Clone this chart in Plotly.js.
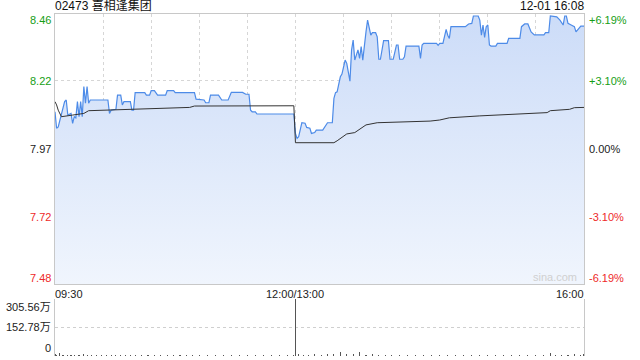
<!DOCTYPE html>
<html>
<head>
<meta charset="utf-8">
<script src="https://cdn.plot.ly/plotly-3.0.1.min.js"></script>
<style>html,body{margin:0;padding:0;background:#fff;}#chart{width:640px;height:360px;}</style>
</head>
<body>
<div id="chart"></div>
<script>
// ---- data (minutes from 09:30; 150 = 12:00/13:00, 330 = 16:00) ----
const titleText = "02473 喜相逢集团";
const stampText = "12-01 16:08";
const prevClose = 7.97;
const priceTicks = [8.46, 8.22, 7.97, 7.72, 7.48];
const pctTicks = ["+6.19%", "+3.10%", "0.00%", "-3.10%", "-6.19%"];
const timeLabels = ["09:30", "12:00/13:00", "16:00"];
const timeLabelMin = [0, 150, 330];
const gridMin = [30, 60, 90, 120, 150, 180, 210, 240, 270, 300];
const volTicks = [305.56, 152.78, 0];
const volTickText = ["305.56万", "152.78万", "0"];

const priceMin = [0,1,2,4,6,7,8,10,11,12,13,14,15,16,17,18,19,20,21,22,33,34,35,38,39,41,42,43,47,48,49,50,56,57,59,60,62,64,69,70,74,75,87,88,93,94,96,97,102,104,108,110,117,119,121,122,123,125,126,149,
150,151,152,154,156,157,159,160,162,163,167,170,173,174,175,176,178,179,181,182,184,185,186,187,189,190,191,192,193,194,195,196,197,198,200,201,202,203,205,208,209,211,213,214,215,217,218,219,227,228,229,230,238,239,240,242,244,245,246,247,256,258,260,261,264,265,266,267,268,269,270,271,272,275,276,282,283,290,291,293,295,297,299,305,306,308,309,313,315,317,318,319,320,322,324,325,327,328,330];
const priceVal = [8.106,8.046,8.051,8.094,8.143,8.149,8.094,8.100,8.064,8.088,8.084,8.143,8.088,8.143,8.088,8.198,8.137,8.198,8.137,8.149,8.149,8.100,8.112,8.115,8.167,8.167,8.131,8.143,8.143,8.112,8.112,8.176,8.176,8.167,8.167,8.183,8.183,8.167,8.167,8.183,8.183,8.176,8.176,8.152,8.149,8.139,8.139,8.167,8.167,8.149,8.149,8.177,8.177,8.170,8.170,8.112,8.106,8.106,8.098,8.098,
8.027,8.009,8.015,8.066,8.064,8.049,8.046,8.027,8.030,8.039,8.039,8.066,8.066,8.155,8.176,8.179,8.234,8.244,8.295,8.283,8.218,8.332,8.368,8.295,8.332,8.301,8.344,8.295,8.356,8.398,8.441,8.417,8.386,8.395,8.395,8.380,8.298,8.298,8.366,8.366,8.298,8.298,8.350,8.350,8.298,8.298,8.307,8.346,8.346,8.301,8.350,8.356,8.356,8.349,8.356,8.356,8.407,8.386,8.374,8.417,8.417,8.427,8.429,8.456,8.456,8.441,8.386,8.423,8.378,8.417,8.423,8.350,8.346,8.346,8.356,8.356,8.374,8.374,8.417,8.427,8.427,8.398,8.387,8.387,8.395,8.395,8.456,8.453,8.441,8.423,8.456,8.456,8.429,8.423,8.417,8.398,8.414,8.419,8.419];

const avgMin = [0,1,2,4,11,18,21,30,49,70,84,87,121,149,150,174,176,180,182,187,190,194,201,217,234,240,246,265,290,307,309,321,324,330];
const avgVal = [8.143,8.131,8.112,8.088,8.094,8.100,8.110,8.112,8.115,8.119,8.122,8.127,8.128,8.128,7.993,7.993,8.000,8.017,8.025,8.030,8.042,8.058,8.066,8.069,8.072,8.076,8.084,8.091,8.098,8.103,8.110,8.115,8.121,8.122];

const volMin = [0,1,3,5,8,10,12,15,18,20,23,26,29,32,35,38,41,44,47,50,54,58,62,66,70,74,78,82,86,90,95,100,105,110,115,120,125,130,135,140,145,149,150,152,155,158,162,166,170,174,178,182,186,190,194,198,202,206,210,215,220,225,230,235,240,245,250,255,260,265,270,275,280,285,290,295,300,305,309,312,316,320,324,328,330];
const volVal = [9,6,16,7,6,8,5,7,9,6,5,8,6,7,5,6,8,5,6,7,5,6,8,5,6,7,5,6,8,5,6,7,5,6,8,5,6,7,5,6,7,8,305.56,9,8,7,9,8,10,9,22,9,11,20,8,10,7,8,6,7,8,6,7,8,6,7,8,6,7,8,6,7,8,6,7,8,6,7,16,7,8,6,9,8,12];

// ---- styling ----
const GREEN = "#169e16", RED = "#ee2a2a", DARK = "#222";
const tickColors = [GREEN, GREEN, DARK, RED, RED];
const FONT = "Liberation Sans, Arial, Noto Sans CJK SC, sans-serif";
const yMin = prevClose * (1 - 0.0619), yMax = prevClose * (1 + 0.0619);

const traces = [
  {
    x: priceMin, y: priceVal, type: "scatter", mode: "lines",
    line: {color: "#4d8be8", width: 1.2},
    fill: "tozeroy",
    fillgradient: {type: "vertical", start: yMin, stop: yMax,
      colorscale: [[0, "rgb(240,245,253)"], [1, "rgb(204,220,248)"]]},
    hoverinfo: "skip", xaxis: "x", yaxis: "y"
  },
  {
    x: avgMin, y: avgVal, type: "scatter", mode: "lines",
    line: {color: "#333333", width: 1},
    hoverinfo: "skip", xaxis: "x", yaxis: "y"
  },
  {
    x: volMin, y: volVal, type: "bar", width: 0.7,
    marker: {color: "#555555", line: {width: 0}},
    hoverinfo: "skip", xaxis: "x2", yaxis: "y2"
  }
];

const annotations = [];
const lblFont = (c) => ({family: FONT, size: 11, color: c});
priceTicks.forEach((v, i) => {
  const shift = i === 0 ? -5 : (i === priceTicks.length - 1 ? 5 : 0);
  annotations.push({xref: "paper", yref: "y", x: 0, y: v, xanchor: "right", yanchor: "middle",
    xshift: -2, yshift: shift, text: v.toFixed(2), showarrow: false, font: lblFont(tickColors[i])});
  annotations.push({xref: "paper", yref: "y", x: 1, y: v, xanchor: "left", yanchor: "middle",
    xshift: 3, yshift: shift, text: pctTicks[i], showarrow: false, font: lblFont(tickColors[i])});
});
timeLabels.forEach((t, i) => {
  annotations.push({xref: "x", yref: "paper", x: timeLabelMin[i], y: 0.181,
    xanchor: i === 0 ? "left" : (i === timeLabels.length - 1 ? "right" : "center"), yanchor: "middle",
    xshift: i === 0 ? -2 : (i === timeLabels.length - 1 ? 2 : 0),
    text: t, showarrow: false, font: lblFont("#222")});
});
volTicks.forEach((v, i) => {
  const shift = i === 0 ? -8 : (i === volTicks.length - 1 ? 8 : 0);
  annotations.push({xref: "paper", yref: "y2", x: 0, y: v, xanchor: "right", yanchor: "middle",
    xshift: -2, yshift: shift, text: volTickText[i], showarrow: false, font: lblFont("#222")});
});
annotations.push({xref: "paper", yref: "paper", x: 0, y: 1, xanchor: "left", yanchor: "bottom",
  xshift: -2, yshift: -1, text: titleText, showarrow: false, font: {family: FONT, size: 12, color: "#111"}});
annotations.push({xref: "paper", yref: "paper", x: 1, y: 1, xanchor: "right", yanchor: "bottom",
  xshift: 2, yshift: -1, text: stampText, showarrow: false, font: {family: FONT, size: 12, color: "#111"}});
annotations.push({xref: "paper", yref: "y", x: 1, y: yMin, xanchor: "right", yanchor: "bottom",
  xshift: -5, yshift: -1, text: "sina.com", showarrow: false, font: {family: FONT, size: 11, color: "#d0d0d0"}});

const layout = {
  width: 640, height: 360,
  margin: {l: 55, r: 56, t: 14, b: 4, pad: 0},
  paper_bgcolor: "#ffffff", plot_bgcolor: "#ffffff",
  showlegend: false, bargap: 0,
  font: {family: FONT, size: 11, color: "#222"},
  xaxis: {domain: [0, 1], range: [0, 330], anchor: "y", tickvals: gridMin, showticklabels: false, ticks: "",
    showgrid: true, gridcolor: "#d6d6d6", griddash: "dot", gridwidth: 1,
    showline: true, mirror: true, linecolor: "#c8c8c8", linewidth: 1, zeroline: false, fixedrange: true},
  yaxis: {domain: [0.2105, 1], range: [yMin, yMax], anchor: "x", tickvals: [priceTicks[1], priceTicks[3]],
    showticklabels: false, ticks: "", showgrid: true, gridcolor: "#d6d6d6", griddash: "dot", gridwidth: 1,
    showline: true, mirror: true, linecolor: "#c8c8c8", linewidth: 1, zeroline: false, fixedrange: true},
  xaxis2: {domain: [0, 1], range: [0, 330], anchor: "y2", showticklabels: false, ticks: "", showgrid: false,
    showline: false, zeroline: false, fixedrange: true},
  yaxis2: {domain: [0, 0.1667], range: [0, volTicks[0]], anchor: "x2", tickvals: [volTicks[0], volTicks[1]],
    showticklabels: false, ticks: "", showgrid: true, gridcolor: "#cfcfcf", griddash: "dot", gridwidth: 1,
    showline: true, mirror: true, linecolor: "#c8c8c8", linewidth: 1, zeroline: false, fixedrange: true},
  shapes: [
    {type: "line", xref: "paper", x0: 0, x1: 1, yref: "y", y0: prevClose, y1: prevClose, layer: "below",
      line: {color: "#b4b4b4", width: 1, dash: "dash"}}
  ],
  annotations: annotations
};

Plotly.newPlot("chart", traces, layout, {staticPlot: true, displayModeBar: false});
</script>
</body>
</html>
